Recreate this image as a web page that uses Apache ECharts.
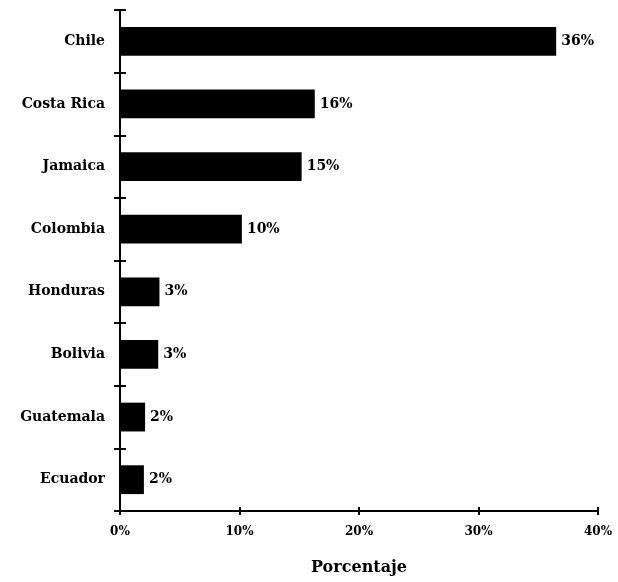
<!DOCTYPE html>
<html>
<head>
<meta charset="utf-8">
<script src="https://cdn.jsdelivr.net/npm/echarts@6/dist/echarts.min.js"></script>
<style>
  html, body { margin: 0; padding: 0; background: #fff; }
  #chart { width: 618px; height: 582px; }
</style>
</head>
<body>
<div id="chart"></div>
<script>
// datos
const countries = ['Chile', 'Costa Rica', 'Jamaica', 'Colombia', 'Honduras', 'Bolivia', 'Guatemala', 'Ecuador'];
const values = [36.5, 16.3, 15.2, 10.2, 3.3, 3.2, 2.1, 2.0];
const valueLabels = ['36%', '16%', '15%', '10%', '3%', '3%', '2%', '2%'];
const xTicks = [0, 10, 20, 30, 40];

const font = 'DejaVu Serif';

const chart = echarts.init(document.getElementById('chart'));

const option = {
  animation: false,
  backgroundColor: '#fff',
  grid: { left: 120, right: 20, top: 10, bottom: 71, outerBoundsMode: 'none' },
  xAxis: [
    {
      type: 'value', min: xTicks[0], max: xTicks[xTicks.length - 1], interval: 10,
      name: 'Porcentaje', nameLocation: 'middle', nameGap: 49,
      nameTextStyle: { fontFamily: font, fontWeight: 'bold', fontSize: 16, color: '#000' },
      axisLine: { show: true, lineStyle: { color: '#000', width: 2 } },
      axisTick: { show: true, inside: false, length: 4, lineStyle: { color: '#000', width: 2 } },
      axisLabel: {
        fontFamily: font, fontWeight: 'bold', fontSize: 12, color: '#000', margin: 15,
        formatter: v => v + '%'
      },
      splitLine: { show: false }
    },
    {
      type: 'value', position: 'bottom', min: 0, max: 40, interval: 10,
      axisLine: { show: false },
      axisTick: { show: true, inside: true, length: 4, lineStyle: { color: '#000', width: 2 } },
      axisLabel: { show: false },
      splitLine: { show: false }
    }
  ],
  yAxis: [
    {
      type: 'category', data: countries, inverse: true,
      axisLine: { show: true, lineStyle: { color: '#000', width: 2 } },
      axisTick: { show: true, inside: false, length: 6, lineStyle: { color: '#000', width: 2 } },
      axisLabel: { fontFamily: font, fontWeight: 'bold', fontSize: 14, color: '#000', margin: 15 }
    },
    {
      type: 'category', data: countries, inverse: true, position: 'left',
      axisLine: { show: false },
      axisTick: { show: true, inside: true, length: 6, lineStyle: { color: '#000', width: 2 } },
      axisLabel: { show: false }
    }
  ],
  series: [
    {
      type: 'bar',
      data: values,
      barCategoryGap: '54%',
      itemStyle: { color: '#000' },
      label: {
        show: true, position: 'right', distance: 5,
        fontFamily: font, fontWeight: 'bold', fontSize: 14, color: '#000',
        formatter: p => valueLabels[p.dataIndex]
      }
    }
  ]
};

chart.setOption(option);
</script>
</body>
</html>
